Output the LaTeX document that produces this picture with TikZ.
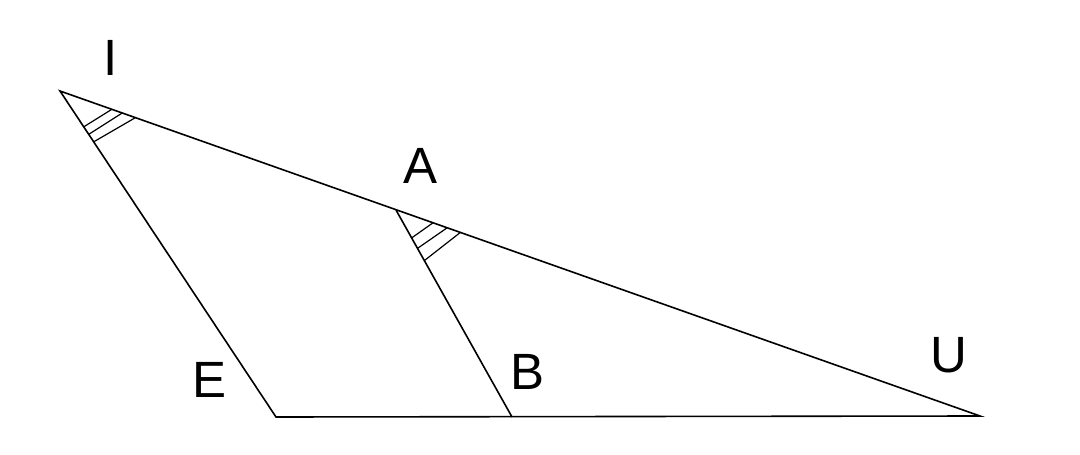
\documentclass[tikz,border=0pt]{standalone}
\usepackage{fontspec}
\setmainfont{Liberation Sans}
\usetikzlibrary{calc}

\tikzset{
  lbl/.style={font=\fontsize{51}{60}\selectfont, inner sep=0pt},
  side/.style={black, line width=1.6pt},
  tick/.style={black, line width=1.2pt}
}

\begin{document}
\begin{tikzpicture}[x=1pt, y=-1pt]
    \useasboundingbox (0,0) rectangle (1080,455);
    \coordinate (I) at (60, 91);
    \coordinate (A) at (396, 210);
    \coordinate (U) at (980, 416);
    \coordinate (E) at (276, 417);
    \coordinate (B) at (512, 417);
    \draw[side] (I)--(U)--(E)--cycle;
    \draw[side] (A)--(B);
    % angle marks
    \draw[tick] ($(I)!43pt!(E)$)--($(I)!55pt!(U)$);
    \draw[tick] ($(I)!52pt!(E)$)--($(I)!66pt!(U)$);
    \draw[tick] ($(I)!61pt!(E)$)--($(I)!80pt!(U)$);
    \draw[tick] ($(A)!32pt!(B)$)--($(A)!39pt!(U)$);
    \draw[tick] ($(A)!44pt!(B)$)--($(A)!54pt!(U)$);
    \draw[tick] ($(A)!58pt!(B)$)--($(A)!68pt!(U)$);
    \node[lbl] (lI) at (111, 58) {I};
    \node[lbl] (lA) at (421, 166) {A};
    \node[lbl] (lE) at (210, 380) {E};
    \node[lbl] (lB) at (528, 372) {B};
    \node[lbl] (lU) at (949, 355) {U};
\end{tikzpicture}
\end{document}
